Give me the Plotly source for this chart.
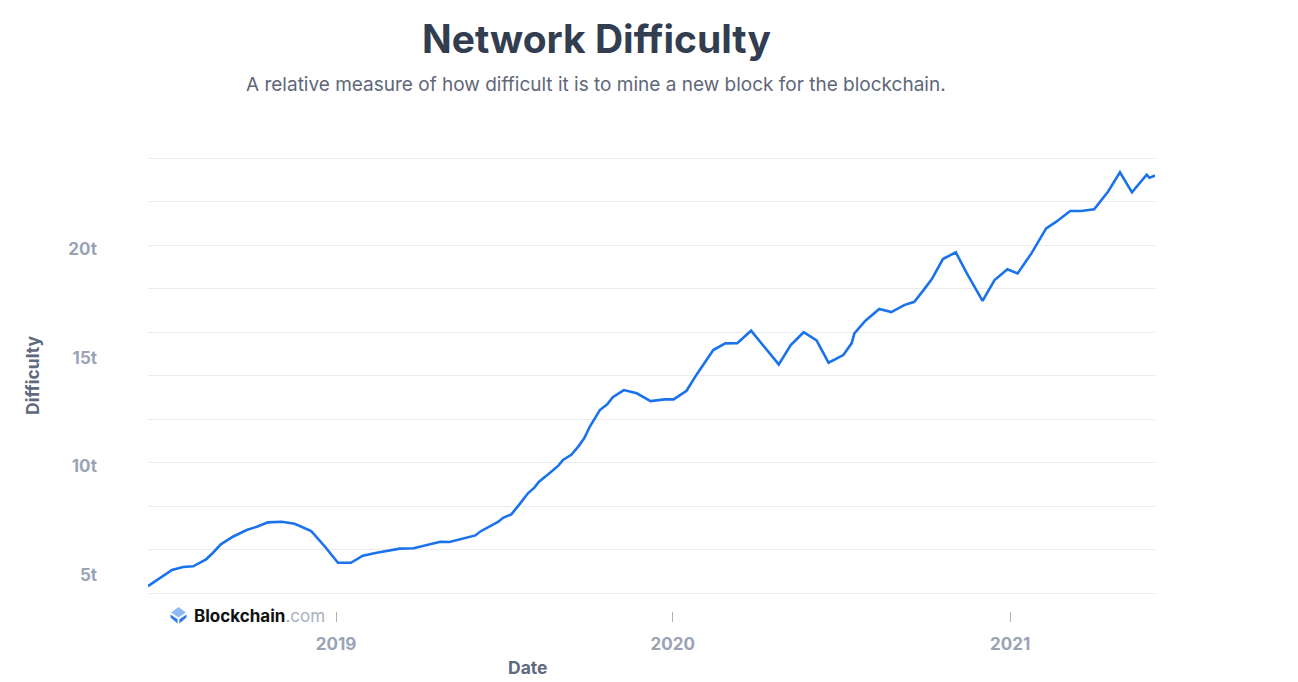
import plotly.graph_objects as go

dates = [
    "2018-06-11", "2018-07-07", "2018-07-19", "2018-07-30", "2018-08-13", "2018-08-20",
    "2018-08-29", "2018-09-11", "2018-09-26", "2018-10-07", "2018-10-19", "2018-11-03",
    "2018-11-17", "2018-12-05", "2018-12-20", "2019-01-03", "2019-01-17", "2019-01-30",
    "2019-02-14", "2019-02-28", "2019-03-11", "2019-03-26", "2019-04-09", "2019-04-24",
    "2019-05-04", "2019-05-19", "2019-06-01", "2019-06-06", "2019-06-17", "2019-06-26",
    "2019-07-01", "2019-07-10", "2019-07-19", "2019-07-28", "2019-08-04", "2019-08-09",
    "2019-08-19", "2019-08-30", "2019-09-04", "2019-09-13", "2019-09-21", "2019-09-27",
    "2019-10-03", "2019-10-14", "2019-10-22", "2019-10-28", "2019-11-09", "2019-11-23",
    "2019-12-08", "2019-12-23", "2020-01-02", "2020-01-16", "2020-01-27", "2020-02-02",
    "2020-02-14", "2020-02-27", "2020-03-11", "2020-03-26", "2020-04-09", "2020-04-25",
    "2020-05-08", "2020-05-22", "2020-06-05", "2020-06-18", "2020-07-04", "2020-07-13",
    "2020-07-16", "2020-07-28", "2020-08-12", "2020-08-25", "2020-09-08", "2020-09-19",
    "2020-09-29", "2020-10-08", "2020-10-20", "2020-11-03", "2020-11-15", "2020-12-02",
    "2020-12-15", "2020-12-29", "2021-01-09", "2021-01-24", "2021-02-09", "2021-02-20",
    "2021-03-07", "2021-03-19", "2021-04-02", "2021-04-17", "2021-04-30", "2021-05-13",
    "2021-05-29", "2021-06-01", "2021-06-08",
]

difficulty_t = [
    4.49, 5.23, 5.37, 5.40, 5.72, 6.00,
    6.41, 6.76, 7.07, 7.22, 7.42, 7.45,
    7.36, 7.02, 6.30, 5.56, 5.56, 5.89,
    6.02, 6.12, 6.21, 6.23, 6.36, 6.53,
    6.52, 6.69, 6.82, 6.99, 7.25, 7.45,
    7.63, 7.79, 8.26, 8.76, 9.02, 9.29,
    9.63, 10.03, 10.29, 10.53, 10.93, 11.29,
    11.82, 12.59, 12.85, 13.18, 13.51, 13.36,
    13.00, 13.08, 13.08, 13.48, 14.23, 14.62,
    15.35, 15.66, 15.67, 16.24, 15.54, 14.69,
    15.58, 16.17, 15.80, 14.77, 15.12, 15.66,
    16.12, 16.70, 17.24, 17.10, 17.42, 17.57,
    18.11, 18.62, 19.54, 19.85, 18.88, 17.61,
    18.57, 19.07, 18.88, 19.80, 20.95, 21.26,
    21.75, 21.75, 21.83, 22.64, 23.53, 22.61,
    23.42, 23.28, 23.39,
]

y_tick_values = [5, 10, 15, 20]
y_tick_labels = ["5t", "10t", "15t", "20t"]
x_tick_values = ["2019-01-01", "2020-01-01", "2021-01-01"]
x_tick_labels = ["2019", "2020", "2021"]

# layout geometry: screen pixels, page body has an 8px margin
OFF = 8
W, H = 1298 - OFF, 682 - OFF
PLOT_L, PLOT_R = 148, 1155          # screen x of plot area edges
PLOT_T, PLOT_B = 140, 611           # screen y of figure plot area top and x-axis line
GRID_TOP, GRID_BOTTOM = 158, 593    # screen y of top / lowest gridline
ML = PLOT_L - OFF
MT = PLOT_T - OFF
MR = W - (PLOT_R - OFF)
MB = H - (PLOT_B - OFF)
PW = PLOT_R - PLOT_L
PH = PLOT_B - PLOT_T


def px(x):
    return (x - PLOT_L) / PW


def py(y):
    return (PLOT_B - y) / PH


GRID_LO, GRID_HI = 4.17, 24.19      # values at lowest / top gridline
Y_DTICK = (GRID_HI - GRID_LO) / 10
PAD = 0.15                          # padding so the edge gridlines are drawn
per_px = (GRID_HI - GRID_LO) / (GRID_BOTTOM - GRID_TOP)
Y_RANGE = [GRID_LO - PAD, GRID_HI + PAD]
ydom = [py(GRID_BOTTOM + PAD / per_px), py(GRID_TOP - PAD / per_px)]

FONT = "Inter, Roboto, sans-serif"
TICK_COLOR = "#9aa3b6"
LABEL_COLOR = "#5f6a80"

fig = go.Figure()
fig.add_trace(go.Scatter(
    x=dates, y=difficulty_t, mode="lines",
    line=dict(color="#1a73ec", width=2.6),
    hoverinfo="skip", showlegend=False,
))
# invisible trace to activate yaxis2 (tick labels)
fig.add_trace(go.Scatter(x=[dates[0]], y=[difficulty_t[0]], yaxis="y2",
                         mode="lines", line=dict(width=0), hoverinfo="skip",
                         showlegend=False, opacity=0))

fig.update_layout(
    width=W, height=H,
    margin=dict(l=ML, r=MR, t=MT, b=MB, pad=0),
    paper_bgcolor="white", plot_bgcolor="white",
    font=dict(family=FONT),
    showlegend=False,
    xaxis=dict(
        type="date",
        range=["2018-06-11", "2021-06-07"],
        anchor="free", position=0,
        showgrid=False, zeroline=False, showline=False,
        ticks="outside", ticklen=10, tickwidth=1, tickcolor="#aab1c0",
        tickvals=x_tick_values, ticktext=x_tick_labels,
        tickfont=dict(size=17, color=TICK_COLOR, family=FONT, weight=700),
        ticklabelstandoff=8,
    ),
    yaxis=dict(
        domain=ydom, range=Y_RANGE,
        tick0=GRID_LO, dtick=Y_DTICK,
        showticklabels=False, ticks="",
        showgrid=True, gridcolor="#e9ebf0", gridwidth=1,
        zeroline=False, showline=False,
    ),
    yaxis2=dict(
        domain=ydom, range=Y_RANGE, overlaying="y", side="left",
        tickvals=y_tick_values, ticktext=y_tick_labels,
        showgrid=False, zeroline=False, showline=False, ticks="",
        tickfont=dict(size=17, color=TICK_COLOR, family=FONT, weight=700),
        ticklabelstandoff=50,
    ),
)

annotations = [
    dict(text="Network Difficulty", x=px(596), y=py(38), xref="paper", yref="paper",
         xanchor="center", yanchor="middle", showarrow=False,
         font=dict(size=39, color="#333d50", family=FONT, weight=700)),
    dict(text="A relative measure of how difficult it is to mine a new block for the blockchain.",
         x=px(596), y=py(84), xref="paper", yref="paper",
         xanchor="center", yanchor="middle", showarrow=False,
         font=dict(size=19, color="#5e6779", family=FONT)),
    dict(text="Difficulty", x=px(32), y=py(376), xref="paper", yref="paper",
         xanchor="center", yanchor="middle", showarrow=False, textangle=-90,
         font=dict(size=17.5, color=LABEL_COLOR, family=FONT, weight=700)),
    dict(text="Date", x=px(527), y=py(667), xref="paper", yref="paper",
         xanchor="center", yanchor="middle", showarrow=False,
         font=dict(size=17.5, color=LABEL_COLOR, family=FONT, weight=700)),
    dict(text="<b>Blockchain</b><span style='color:#a7afbf'>.com</span>",
         x=px(192), y=py(616), xref="paper", yref="paper",
         xanchor="left", yanchor="middle", showarrow=False,
         font=dict(size=17, color="#111111", family=FONT)),
]
fig.update_layout(annotations=annotations)


def path(points):
    return "M " + " L ".join(f"{px(a):.5f},{py(b):.5f}" for a, b in points) + " Z"


fig.add_shape(type="path", xref="paper", yref="paper", line=dict(width=0),
              fillcolor="#8fbaf6",
              path=path([(171, 612.5), (178.5, 607), (186, 612.5), (178.5, 617.5)]))
fig.add_shape(type="path", xref="paper", yref="paper", line=dict(width=0),
              fillcolor="#2d78ee",
              path=path([(170.5, 614.5), (177.6, 619.3), (177.6, 623.5), (170.5, 617.5)]))
fig.add_shape(type="path", xref="paper", yref="paper", line=dict(width=0),
              fillcolor="#2d78ee",
              path=path([(186.5, 614.5), (179.4, 619.3), (179.4, 623.5), (186.5, 617.5)]))

fig.write_html("out.html")
